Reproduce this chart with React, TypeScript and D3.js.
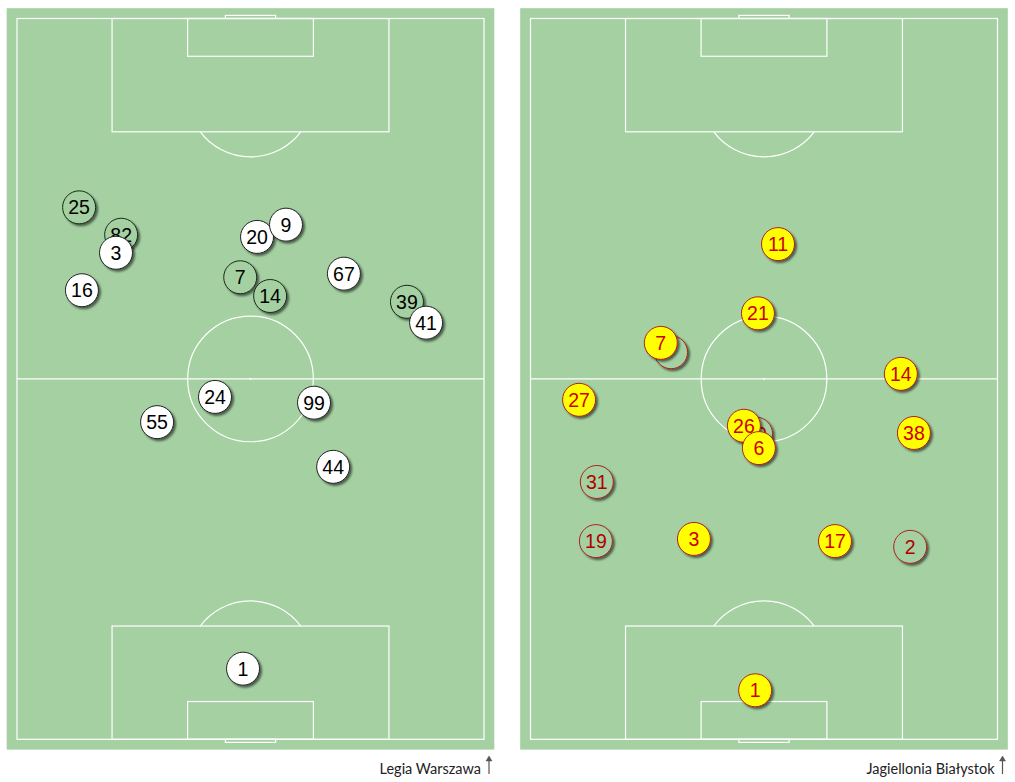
import React from "react";
import * as d3 from "d3";

// Player positions in % of pitch (x: across, left→right; y: along, top→bottom)
const legiaNumbers = ["25", "82", "7", "14", "39", "3", "16", "20", "9", "67", "41", "24", "99", "55", "44", "1"];
const legiaX = [13.3, 22.3, 47.8, 54.2, 83.5, 21.2, 13.9, 51.4, 57.6, 70.0, 87.6, 42.4, 63.6, 30.0, 67.7, 48.4];
const legiaY = [26.2, 30.0, 35.9, 38.5, 39.3, 32.5, 37.7, 30.3, 28.6, 35.4, 42.2, 52.5, 53.3, 56.0, 62.2, 90.2];
const legiaHollow = [true, true, true, true, true, false, false, false, false, false, false, false, false, false, false, false];

const jagaNumbers = ["", "20", "31", "19", "2", "11", "21", "7", "27", "14", "26", "6", "38", "3", "17", "1"];
const jagaX = [30.1, 48.3, 14.2, 14.0, 81.3, 53.0, 48.7, 27.9, 10.4, 79.3, 45.7, 48.9, 82.1, 35.0, 65.2, 48.1];
const jagaY = [46.3, 57.6, 64.3, 72.5, 73.3, 31.3, 40.9, 45.0, 52.9, 49.3, 56.5, 59.6, 57.5, 72.2, 72.5, 93.2];
const jagaHollow = [true, true, true, true, true, false, false, false, false, false, false, false, false, false, false, false];

const teamNames = ["Legia Warszawa", "Jagiellonia Białystok"];

const PITCH_W = 68;
const PITCH_L = 105;
const PX_W = 467;
const PX_L = 720.8;
const TOP = 18.5;
const GREEN = "#a4d0a2";

type Style = { fill: string; stroke: string; text: string; hollowStroke: string; hollowText: string };

function Pitch({ x0, numbers, xs, ys, hollow, style, name }: any) {
  const mx = d3.scaleLinear().domain([0, PITCH_W]).range([x0, x0 + PX_W]);
  const my = d3.scaleLinear().domain([0, PITCH_L]).range([TOP, TOP + PX_L]);
  const px = d3.scaleLinear().domain([0, 100]).range([x0, x0 + PX_W]);
  const py = d3.scaleLinear().domain([0, 100]).range([TOP, TOP + PX_L]);
  const k = PX_W / PITCH_W;
  const margin = 1.5;
  const line = { fill: "none", stroke: "#fff", strokeWidth: 1.2 };
  const cx = PITCH_W / 2;

  const boxW = 40.32, boxD = 16.5, sixW = 18.32, sixD = 5.5, goalW = 7.32, goalD = 0.45, r = 9.15, spot = 11;
  const dy = boxD - spot;
  const ang = Math.acos(dy / r);
  const arcTop = d3.arc()({ innerRadius: r * k, outerRadius: r * k, startAngle: Math.PI - ang, endAngle: Math.PI + ang } as any);
  const arcBot = d3.arc()({ innerRadius: r * k, outerRadius: r * k, startAngle: -ang, endAngle: ang } as any);

  const order = d3.range(numbers.length).sort((a, b) => (hollow[a] === hollow[b] ? a - b : hollow[a] ? -1 : 1));

  return (
    <g>
      <rect x={mx(-margin)} y={my(-margin)} width={mx(PITCH_W + margin) - mx(-margin)} height={my(PITCH_L + margin) - my(-margin)} fill={GREEN} />
      <rect x={mx(0)} y={my(0)} width={mx(PITCH_W) - mx(0)} height={my(PITCH_L) - my(0)} {...line} />
      <line x1={mx(0)} x2={mx(PITCH_W)} y1={my(PITCH_L / 2)} y2={my(PITCH_L / 2)} {...line} />
      <circle cx={mx(cx)} cy={my(PITCH_L / 2)} r={r * k} {...line} />
      <circle cx={mx(cx)} cy={my(PITCH_L / 2)} r={1} fill="#fff" />
      <rect x={mx(cx - boxW / 2)} y={my(0)} width={boxW * k} height={boxD * k} {...line} />
      <rect x={mx(cx - sixW / 2)} y={my(0)} width={sixW * k} height={sixD * k} {...line} />
      <rect x={mx(cx - goalW / 2)} y={my(-goalD)} width={goalW * k} height={goalD * k} {...line} />
      <path d={arcTop as string} transform={`translate(${mx(cx)},${my(spot)})`} {...line} />
      <rect x={mx(cx - boxW / 2)} y={my(PITCH_L - boxD)} width={boxW * k} height={boxD * k} {...line} />
      <rect x={mx(cx - sixW / 2)} y={my(PITCH_L - sixD)} width={sixW * k} height={sixD * k} {...line} />
      <rect x={mx(cx - goalW / 2)} y={my(PITCH_L)} width={goalW * k} height={goalD * k} {...line} />
      <path d={arcBot as string} transform={`translate(${mx(cx)},${my(PITCH_L - spot)})`} {...line} />

      {order.map((i: number) => (
        <g key={i} transform={`translate(${px(xs[i])},${py(ys[i])})`}>
          <circle r={16.5} fill={hollow[i] ? GREEN : style.fill} stroke={hollow[i] ? style.hollowStroke : style.stroke} strokeWidth={1} filter="url(#shadow)" />
          {numbers[i] !== "" && (
            <text textAnchor="middle" dy="0.36em" fontFamily="'Liberation Sans', Arial, sans-serif" fontSize={19.5} fill={hollow[i] ? style.hollowText : style.text}>
              {numbers[i]}
            </text>
          )}
        </g>
      ))}

      <text x={mx(PITCH_W) - 3} y={774} textAnchor="end" fontFamily="Lato, 'Open Sans', sans-serif" fontSize={14.5} fill="#222">
        {name}
      </text>
      <g stroke="#555" fill="#555">
        <line x1={mx(PITCH_W) + 5} x2={mx(PITCH_W) + 5} y1={774} y2={760} strokeWidth={1.2} />
        <path d={`M${mx(PITCH_W) + 2},${761} L${mx(PITCH_W) + 5},${756} L${mx(PITCH_W) + 8},${761} Z`} strokeWidth={0.5} />
      </g>
    </g>
  );
}

export default function App() {
  const legiaStyle: Style = { fill: "#ffffff", stroke: "#222", text: "#000", hollowStroke: "#1a2a1a", hollowText: "#000" };
  const jagaStyle: Style = { fill: "#ffff00", stroke: "#b02020", text: "#cc0000", hollowStroke: "#b02020", hollowText: "#b00000" };
  return (
    <svg width={1015} height={782} style={{ position: "absolute", left: 0, top: 0 }}>
      <defs>
        <filter id="shadow" x="-50%" y="-50%" width="200%" height="200%">
          <feDropShadow dx={2} dy={2} stdDeviation={1.2} floodColor="#000" floodOpacity={0.55} />
        </filter>
      </defs>
      <Pitch x0={17} numbers={legiaNumbers} xs={legiaX} ys={legiaY} hollow={legiaHollow} style={legiaStyle} name={teamNames[0]} />
      <Pitch x0={530.5} numbers={jagaNumbers} xs={jagaX} ys={jagaY} hollow={jagaHollow} style={jagaStyle} name={teamNames[1]} />
    </svg>
  );
}
